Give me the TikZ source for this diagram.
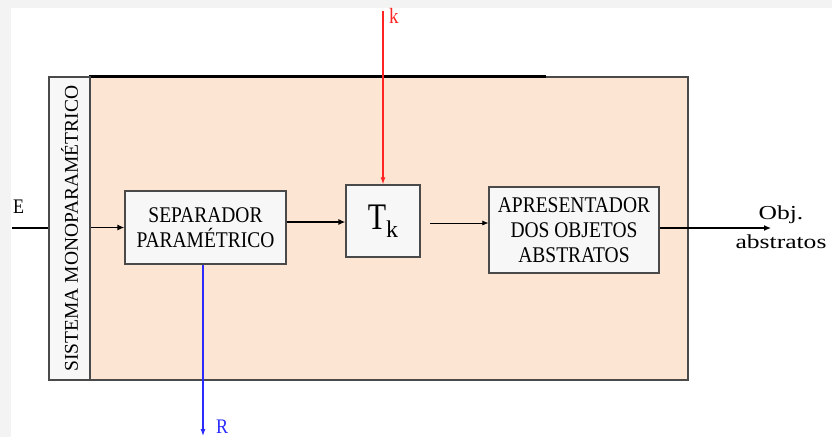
\documentclass[tikz,border=0pt]{standalone}
\usepackage{fontspec}
\setmainfont{Liberation Serif}
\usetikzlibrary{arrows.meta}
\definecolor{peach}{HTML}{FDE5D4}
\definecolor{boxfill}{HTML}{F7F7F7}
\definecolor{edge}{HTML}{4A4A4A}
\definecolor{marble}{HTML}{F3F3F3}
\definecolor{kred}{HTML}{FF2424}
\definecolor{rblue}{HTML}{2B2BFF}
% tall lettering used in the blocks
\newcommand{\tallline}[1]{\scalebox{1}[1.15]{#1}}
% wide lettering of the output label
\newcommand{\wideline}[1]{\scalebox{1.42}[1.1]{#1}}

\begin{document}
\begin{tikzpicture}[x=1pt,y=-1pt,
  block/.style={draw=edge, line width=1.3pt, fill=boxfill, inner sep=0pt,
    align=center, font=\fontsize{19.5}{25}\selectfont},
  flow/.style={line width=1.3pt, -{Latex[length=7pt,width=6pt]}},
  thinflow/.style={line width=0.7pt, -{Latex[length=6pt,width=5pt]}},
  label/.style={inner sep=0pt, font=\fontsize{18}{20}\selectfont}
]
\useasboundingbox (0,0) rectangle (832,437);
% page background with a pale border band
\fill[white] (0,0) rectangle (832,437);
\fill[marble] (0,0) rectangle (832,8);
\fill[marble] (0,0) rectangle (11,437);

% system body
\node[draw=edge, line width=1.3pt, fill=peach, minimum width=598pt,
  minimum height=303pt, inner sep=0pt] (sys) at (389,228.5) {};
\draw[line width=2.4pt] (sys.north west) -- ++(457,0);

% input line (passes under the side bar)
\coordinate (eIn) at (12,228);
\node[label, anchor=base west] (elab) at (13,213) {\tallline{E}};

% side bar with rotated title
\node[block, rotate=90, minimum width=303pt, minimum height=41pt]
  (bar) at (69.5,228.5) {SISTEMA MONOPARAMÉTRICO};

% processing blocks
\node[block, minimum width=161pt, minimum height=73pt] (sep) at (205.5,227.5)
  {\tallline{SEPARADOR}\\\tallline{PARAMÉTRICO}};
\node[block, minimum width=74pt, minimum height=72pt] (tk) at (383,221)
  {\scalebox{1}[1.25]{\fontsize{30}{30}\selectfont T}\raisebox{-8pt}{\fontsize{24}{24}\selectfont k}};
\node[block, minimum width=170pt, minimum height=86pt] (apr) at (574,230)
  {\tallline{APRESENTADOR}\\\tallline{DOS OBJETOS}\\\tallline{ABSTRATOS}};

% connectors
\draw[line width=1.3pt] (eIn) -- (eIn -| bar.north);
\draw[flow] (bar.south |- sep.west) -- (sep.west);
\draw[flow] (sep.east |- 0,222) -- (tk.west |- 0,222);
\coordinate (gapStart) at (430,223);
\draw[thinflow] (gapStart) -- (apr.west |- gapStart);
\coordinate (out) at (771,228);
\draw[flow] (apr.east |- out) -- (out);
\node[label, anchor=base] (olab1) at (781,219) {\wideline{Obj.}};
\node[label, anchor=base] (olab2) at (781,248) {\wideline{abstratos}};

% parameter k input
\coordinate (kTop) at (383,11);
\draw[kred, line width=1.1pt, -{Latex[length=7pt,width=5pt]}] (kTop) -- (tk.north);
\node[label, text=kred, anchor=base west] (klab) at (389,23)
  {\fontsize{19}{20}\selectfont\tallline{k}};

% residue output R
\coordinate (rOut) at (203,436);
\draw[rblue, line width=1.1pt, -{Latex[length=7pt,width=5pt]}]
  (sep.south -| rOut) -- (rOut);
\node[label, text=rblue, anchor=base west] (rlab) at (216,433) {\tallline{R}};
\end{tikzpicture}
\end{document}
